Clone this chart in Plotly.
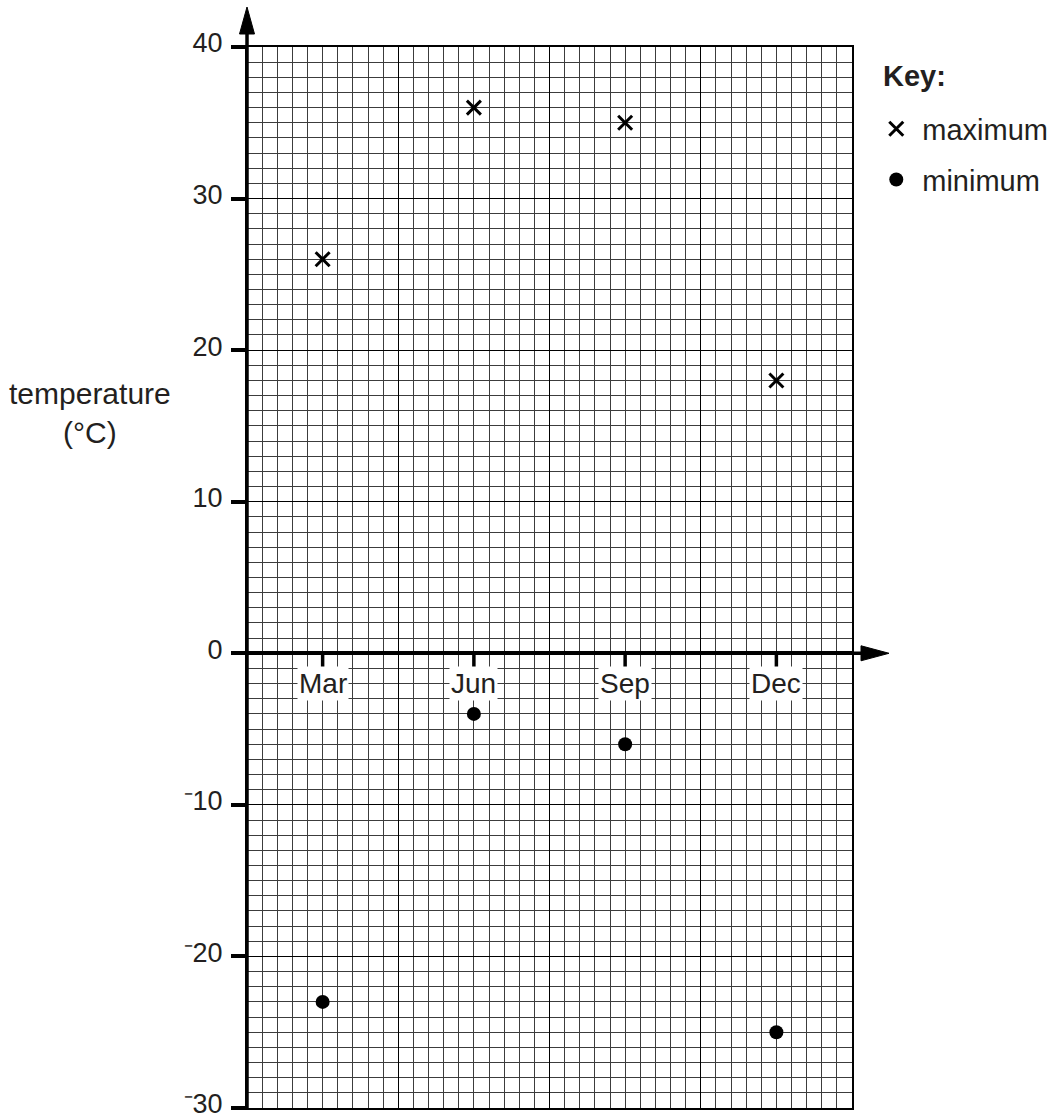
import plotly.graph_objects as go

# ---- data ----
months = ["Mar", "Jun", "Sep", "Dec"]
max_temp = [26, 36, 35, 18]
min_temp = [-23, -4, -6, -25]
y_tickvals = [-30, -20, -10, 0, 10, 20, 30, 40]
y_ticktext = ["\u207b30", "\u207b20", "\u207b10", "0", "10", "20", "30", "40"]

FONT = "Liberation Sans, Arial, Helvetica, sans-serif"
TXT = "#231f20"
FS_TICK = 27
FS = 28
FS2 = 29

fig = go.Figure()

# empty trace so the grid axis (x2) is drawn
fig.add_trace(go.Scatter(x=[], y=[], xaxis="x2", yaxis="y", showlegend=False, hoverinfo="skip"))

fig.add_trace(go.Scatter(
    x=months, y=max_temp, mode="markers", name="maximum",
    legendgroup="a",
    marker=dict(symbol="x-thin", size=14, color="black", line=dict(color="black", width=3)),
))
fig.add_trace(go.Scatter(
    x=months, y=min_temp, mode="markers", name="minimum",
    legendgroup="b",
    marker=dict(symbol="circle", size=14, color="black", line=dict(width=0)),
))

shapes = []
# thick y axis line with arrow
shapes.append(dict(type="line", xref="paper", yref="paper", x0=0, x1=0, y0=0, y1=1.015,
                   line=dict(color="black", width=3.5), layer="above"))
shapes.append(dict(type="path", xref="paper", yref="paper", xsizemode="pixel", ysizemode="pixel",
                   xanchor=0, yanchor=1, path="M -7.5,13 L 0,40 L 7.5,13 Z",
                   fillcolor="black", line=dict(color="black", width=1), layer="above"))
# x axis extension and arrow
shapes.append(dict(type="line", xref="paper", yref="y", x0=0, x1=1.016, y0=0, y1=0,
                   line=dict(color="black", width=3.5), layer="above"))
shapes.append(dict(type="path", xref="paper", yref="y", xsizemode="pixel", ysizemode="pixel",
                   xanchor=1, yanchor=0, path="M 9,-7.5 L 37,0 L 9,7.5 Z",
                   fillcolor="black", line=dict(color="black", width=1), layer="above"))
# month tick marks
for m in months:
    shapes.append(dict(type="line", xref="x", yref="y", x0=m, x1=m, ysizemode="pixel",
                       yanchor=0, y0=0, y1=-14, line=dict(color="black", width=3.5), layer="above"))

annotations = []
for m in months:
    annotations.append(dict(x=m, y=0, xref="x", yref="y", text=m, showarrow=False,
                            yanchor="top", yshift=-13, bgcolor="white", borderpad=1,
                            font=dict(family=FONT, size=FS, color=TXT)))
annotations.append(dict(x=-0.26, y=0.655, xref="paper", yref="paper",
                        text="temperature<br>(°C)", showarrow=False, align="center",
                        xanchor="center", yanchor="middle",
                        font=dict(family=FONT, size=30, color=TXT)))
annotations.append(dict(x=1.0477, y=0.9727, xref="paper", yref="paper",
                        text="<b>Key:</b>", showarrow=False,
                        xanchor="left", yanchor="middle",
                        font=dict(family=FONT, size=FS2, color=TXT)))

fig.update_layout(
    width=1053, height=1120, autosize=False,
    margin=dict(l=247, r=201, t=47, b=12, pad=0, autoexpand=False),
    paper_bgcolor="white", plot_bgcolor="white",
    font=dict(family=FONT, size=FS, color=TXT),
    shapes=shapes, annotations=annotations,
    showlegend=True,
    legend=dict(
        x=1.0302, y=0.9468, xanchor="left", yanchor="top",
        font=dict(family=FONT, size=FS2, color=TXT),
        traceorder="grouped", tracegroupgap=10, itemwidth=42,
        bgcolor="rgba(0,0,0,0)", borderwidth=0,
    ),
    xaxis=dict(
        type="category", categoryorder="array", categoryarray=months,
        range=[-0.5, 3.5], showgrid=False, zeroline=False,
        showticklabels=False, ticks="", automargin=False,
        showline=True, mirror=True, linecolor="black", linewidth=2,
    ),
    xaxis2=dict(
        overlaying="x", anchor="y", range=[0, 40], showticklabels=False, ticks="",
        showgrid=True, gridcolor="black", gridwidth=1.4, tick0=0, dtick=10,
        minor=dict(dtick=1, showgrid=True, gridcolor="#3c3c3c", gridwidth=1),
        zeroline=False, showline=False, automargin=False,
    ),
    yaxis=dict(
        range=[-30, 40], tickvals=y_tickvals, ticktext=y_ticktext,
        showgrid=True, gridcolor="black", gridwidth=1.4,
        minor=dict(dtick=1, tick0=0, showgrid=True, gridcolor="#3c3c3c", gridwidth=1),
        zeroline=True, zerolinecolor="black", zerolinewidth=3.5,
        ticks="outside", ticklen=14, tickwidth=3.5, tickcolor="black",
        ticklabelstandoff=3, ticklabelshift=-4, ticklabeloverflow="allow", automargin=False,
        showline=True, mirror=True, linecolor="black", linewidth=2,
        tickfont=dict(family=FONT, size=FS_TICK, color=TXT),
    ),
)

fig.write_html("out.html", config={"displayModeBar": False},
               post_script="document.body.style.margin='0px';")
